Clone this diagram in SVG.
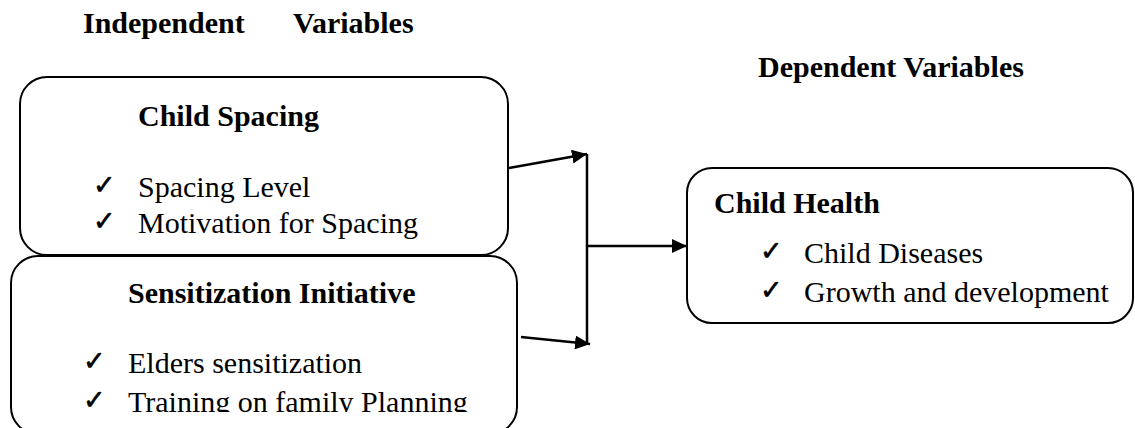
<svg xmlns="http://www.w3.org/2000/svg" width="1135" height="428" viewBox="0 0 1135 428">
<style>
.box{fill:#fff;stroke:#000;stroke-width:2}
.h{font-family:"Liberation Serif",serif;font-weight:bold;font-size:30px;fill:#000}
.t{font-family:"Liberation Serif",serif;font-size:30px;fill:#000}
.ck{font-family:"DejaVu Sans",sans-serif;font-size:27px;fill:#000;stroke:#000;stroke-width:0.6}
.c{stroke:#000;stroke-width:2.5;fill:none}
</style>
<defs>
<marker id="ah" markerUnits="userSpaceOnUse" markerWidth="16" markerHeight="14" refX="15" refY="7" orient="auto">
<path d="M0,0 L15,7 L0,14 z" fill="#000"/>
</marker>
<clipPath id="clip2"><rect x="0" y="0" width="1135" height="412"/></clipPath>
</defs>
<rect width="1135" height="428" fill="#fff"/>
<g id="titles">
<text class="h" x="83" y="33">Independent</text>
<text class="h" x="293" y="33">Variables</text>
<text class="h" x="758" y="77">Dependent Variables</text>
</g>
<g id="child-spacing">
<rect class="box" x="20" y="77" width="488" height="178" rx="27"/>
<text class="h" x="138" y="126">Child Spacing</text>
<text class="ck" x="93" y="194">✓</text>
<text class="t" x="138" y="197">Spacing Level</text>
<text class="ck" x="93" y="230">✓</text>
<text class="t" x="138" y="233">Motivation for Spacing</text>
</g>
<g id="sensitization">
<rect class="box" x="11" y="256" width="506" height="178" rx="27"/>
<text class="h" x="128" y="303">Sensitization Initiative</text>
<text class="ck" x="83" y="370">✓</text>
<text class="t" x="128" y="373">Elders sensitization</text>
<g clip-path="url(#clip2)">
<text class="ck" x="83" y="409">✓</text>
<text class="t" x="128" y="412">Training on family Planning</text>
</g>
</g>
<g id="child-health">
<rect class="box" x="687" y="168" width="446" height="155" rx="25"/>
<text class="h" x="714" y="213">Child Health</text>
<text class="ck" x="760" y="260">✓</text>
<text class="t" x="804" y="263">Child Diseases</text>
<text class="ck" x="760" y="299">✓</text>
<text class="t" x="804" y="302">Growth and development</text>
</g>
<g id="connectors">
<line class="c" x1="509" y1="168" x2="587" y2="154" marker-end="url(#ah)"/>
<line class="c" x1="521" y1="337" x2="590" y2="344" marker-end="url(#ah)"/>
<line class="c" x1="587" y1="154" x2="587" y2="343"/>
<line class="c" x1="587" y1="246" x2="687" y2="246" marker-end="url(#ah)"/>
</g>
</svg>
